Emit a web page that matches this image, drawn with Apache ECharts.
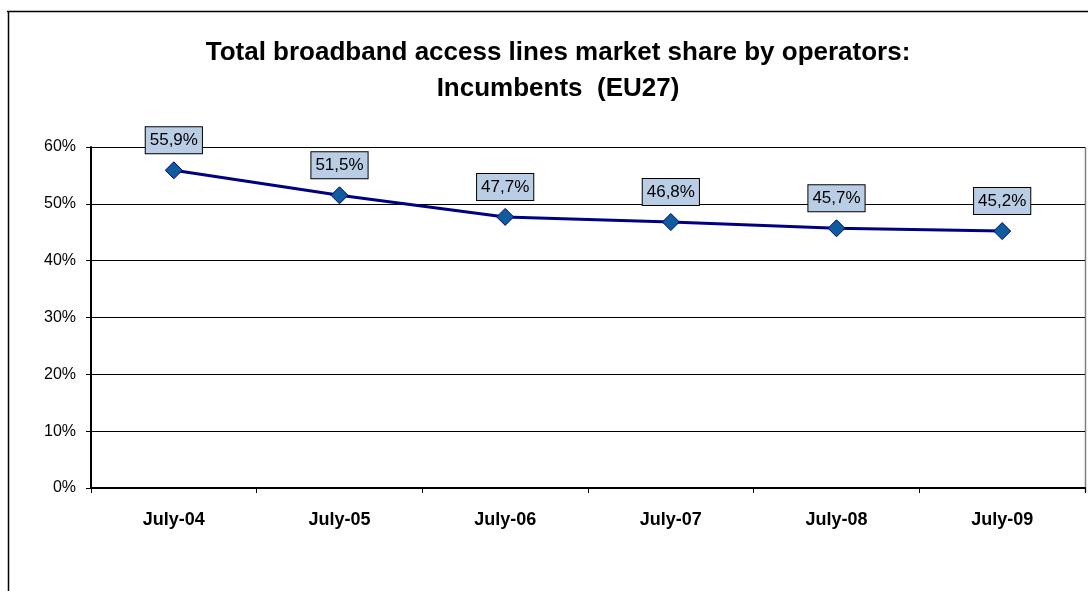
<!DOCTYPE html>
<html><head><meta charset="utf-8">
<script src="https://cdn.jsdelivr.net/npm/echarts@6/dist/echarts.min.js"></script>
<style>html,body{margin:0;padding:0;background:#fff}#c{width:1088px;height:591px}</style>
</head><body><div id="c"></div>
<script>
var categories = ['July-04','July-05','July-06','July-07','July-08','July-09'];
var incumbents = [55.9, 51.5, 47.7, 46.8, 45.7, 45.2];
var yTicks = [0, 10, 20, 30, 40, 50, 60];
var titleLines = ['Total broadband access lines market share by operators:', 'Incumbents  (EU27)'];

var chart = echarts.init(document.getElementById('c'), null, {renderer:'canvas'});
chart.setOption({
  backgroundColor:'#fff',
  animation:false,
  title:{
    text: titleLines.join('\n'), left: 553, textAlign:'center', top:30,
    textStyle:{fontFamily:'Liberation Sans, Arial', fontWeight:'bold', fontSize:26, lineHeight:36, color:'#000'}
  },
  graphic:[
    {type:'line', shape:{x1:7, y1:11.5, x2:1088, y2:11.5}, style:{stroke:'#000', lineWidth:1.5}},
    {type:'line', shape:{x1:8.5, y1:11, x2:8.5, y2:591}, style:{stroke:'#000', lineWidth:1.5}},
    {type:'line', shape:{x1:1085.5, y1:147, x2:1085.5, y2:492}, style:{stroke:'#808080', lineWidth:1.5}}
  ],
  grid:{left:91, right:3, top:147, bottom:103},
  xAxis:{
    type:'category', data:categories, boundaryGap:true,
    axisLine:{lineStyle:{color:'#000', width:2}},
    axisTick:{show:true, length:5, lineStyle:{color:'#000'}},
    axisLabel:{fontFamily:'Liberation Sans, Arial', fontWeight:'bold', fontSize:18, color:'#000', margin:23}
  },
  yAxis:{
    type:'value', min:yTicks[0], max:yTicks[yTicks.length-1], interval:10,
    axisLine:{show:true, lineStyle:{color:'#000', width:2}},
    axisTick:{show:true, length:5, lineStyle:{color:'#000'}},
    splitLine:{lineStyle:{color:'#000', width:1}},
    axisLabel:{formatter:'{value}%', fontFamily:'Liberation Sans, Arial', fontSize:16, color:'#000', margin:15}
  },
  series:[{
    type:'line', data:incumbents,
    symbol:'diamond', symbolSize:17,
    lineStyle:{color:'#000080', width:3},
    itemStyle:{color:'#0F5C9C', borderColor:'#000080', borderWidth:1},
    label:{
      show:true, position:'top', distance:8,
      formatter:function(p){return p.value.toFixed(1).replace('.',',')+'%';},
      fontFamily:'Liberation Sans, Arial', fontSize:17, color:'#000',
      backgroundColor:'#B9CDE5', borderColor:'#000', borderWidth:1, padding:[5,4,4,4]
    }
  }]
});
</script></body></html>
